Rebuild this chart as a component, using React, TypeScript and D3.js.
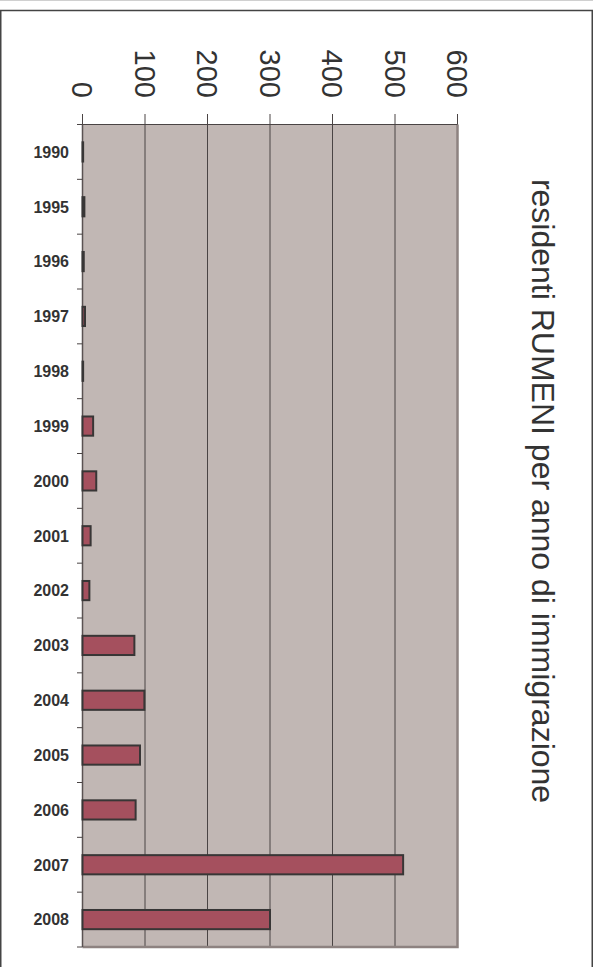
import { useEffect, useRef } from "react";
import * as d3 from "d3";

const years = ["1990", "1995", "1996", "1997", "1998", "1999", "2000", "2001", "2002", "2003", "2004", "2005", "2006", "2007", "2008"];
const residents = [1, 3, 2, 4, 1, 17, 22, 13, 11, 83, 99, 92, 85, 513, 300];
const valueTicks = [0, 100, 200, 300, 400, 500, 600];
const title = "residenti RUMENI per anno di immigrazione";

const FONT = "'Liberation Sans', Arial, Helvetica, sans-serif";

export default function App() {
  const ref = useRef<SVGSVGElement>(null);
  useEffect(() => {
    if (!ref.current) return;
    const svg = d3.select(ref.current);
    svg.selectAll("*").remove();
    const W = 593, H = 967;
    svg.attr("viewBox", `0 0 ${W} ${H}`);
    const m = { l: 82.5, r: 457.5, t: 124.5, b: 947 };

    const x = d3.scaleLinear([0, 600], [m.l, m.r]);
    const y = d3.scaleBand(years, [m.t, m.b]).padding(0);
    const bw = y.bandwidth();

    // outer frame
    svg.append("line").attr("x1", 0).attr("x2", W).attr("y1", 0.5).attr("y2", 0.5)
      .attr("stroke", "#d0d0d0").attr("stroke-width", 1);
    svg.append("rect").attr("x", 0.75).attr("y", 10.5).attr("width", W - 1.5).attr("height", H + 20)
      .attr("fill", "none").attr("stroke", "#444").attr("stroke-width", 1.5);

    // plot background
    svg.append("rect").attr("x", m.l).attr("y", m.t).attr("width", m.r - m.l).attr("height", m.b - m.t)
      .attr("fill", "#c1b7b4");

    // gridlines
    valueTicks.filter((t) => t > 0 && t < 600).forEach((t) => {
      svg.append("line").attr("x1", x(t)).attr("x2", x(t)).attr("y1", m.t).attr("y2", m.b)
        .attr("stroke", "#4a4444").attr("stroke-width", 1);
    });

    // right / bottom shadowed border
    svg.append("path")
      .attr("d", `M${m.r},${m.t}V${m.b}H${m.l}`)
      .attr("fill", "none").attr("stroke", "#8d8280").attr("stroke-width", 2.5);

    // top axis
    svg.append("line").attr("x1", 77).attr("x2", m.r).attr("y1", m.t).attr("y2", m.t)
      .attr("stroke", "#4a4444").attr("stroke-width", 1.2);
    valueTicks.forEach((t) => {
      svg.append("line").attr("x1", x(t)).attr("x2", x(t)).attr("y1", 114).attr("y2", m.t)
        .attr("stroke", "#4a4444").attr("stroke-width", 1);
      svg.append("text")
        .attr("transform", `translate(${x(t)},98) rotate(90)`)
        .attr("text-anchor", "end").attr("dy", "0.35em")
        .attr("font-family", FONT).attr("font-size", 29).attr("fill", "#333")
        .text(String(t));
    });

    // left axis
    svg.append("line").attr("x1", m.l).attr("x2", m.l).attr("y1", m.t).attr("y2", m.b)
      .attr("stroke", "#5a5252").attr("stroke-width", 1.5);
    d3.range(years.length + 1).forEach((i) => {
      const yy = m.t + i * bw;
      svg.append("line").attr("x1", 77).attr("x2", m.l).attr("y1", yy).attr("y2", yy)
        .attr("stroke", "#4a4444").attr("stroke-width", 1);
    });
    years.forEach((yr) => {
      svg.append("text")
        .attr("x", 69).attr("y", y(yr)! + bw / 2).attr("dy", "0.36em")
        .attr("text-anchor", "end").attr("font-family", FONT).attr("font-weight", "bold")
        .attr("font-size", 16).attr("fill", "#333").text(yr);
    });

    // bars
    const barH = bw * 0.35;
    years.forEach((yr, i) => {
      svg.append("rect")
        .attr("x", x(0)).attr("y", y(yr)! + (bw - barH) / 2)
        .attr("width", x(residents[i]) - x(0)).attr("height", barH)
        .attr("fill", "#a5505e").attr("stroke", "#383636").attr("stroke-width", 2);
    });

    // title
    svg.append("text")
      .attr("transform", `translate(532,491) rotate(90)`)
      .attr("text-anchor", "middle")
      .attr("font-family", FONT).attr("font-size", 32).attr("fill", "#333")
      .text(title);
  }, []);
  return (
    <svg ref={ref} width={593} height={967} style={{ position: "absolute", left: 0, top: 0, background: "#fff" }} />
  );
}
